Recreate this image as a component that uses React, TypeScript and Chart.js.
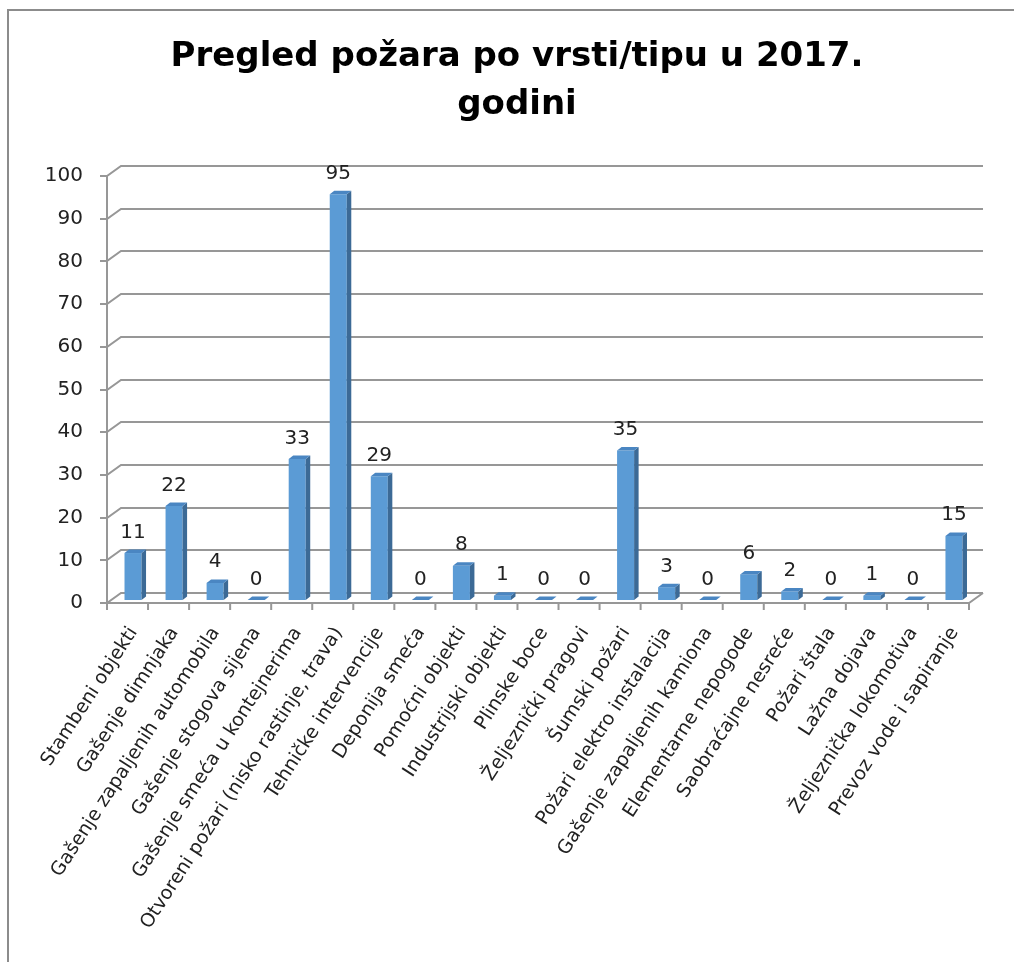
import React, { useEffect, useRef } from 'react';
import { Chart, registerables } from 'chart.js';

Chart.register(...registerables);

const titleLines = ['Pregled požara po vrsti/tipu u 2017.', 'godini'];

const categories = [
  'Stambeni objekti',
  'Gašenje dimnjaka',
  'Gašenje zapaljenih automobila',
  'Gašenje stogova sijena',
  'Gašenje smeća u kontejnerima',
  'Otvoreni požari (nisko rastinje, trava)',
  'Tehničke intervencije',
  'Deponija smeća',
  'Pomoćni objekti',
  'Industrijski objekti',
  'Plinske boce',
  'Željeznički pragovi',
  'Šumski požari',
  'Požari elektro instalacija',
  'Gašenje zapaljenih kamiona',
  'Elementarne nepogode',
  'Saobraćajne nesreće',
  'Požari štala',
  'Lažna dojava',
  'Željeznička lokomotiva',
  'Prevoz vode i sapiranje',
];

const values = [11, 22, 4, 0, 33, 95, 29, 0, 8, 1, 0, 0, 35, 3, 0, 6, 2, 0, 1, 0, 15];

const yMin = 0;
const yMax = 100;
const yStep = 10;

// 3D look parameters
const DX = 14, DY = 10; // back wall offset
const SX = 5.5, SY = -3; // bar depth shift
const FX = 4.5, FY = 3.5; // bar side/top face depth
const GRID = '#979797';
const FRONT = '#5B9BD5';
const SIDE = '#3C6A96';
const TOP = '#4A86C2';
const TEXT = '#222222';

const excel3d = {
  id: 'excel3d',
  afterLayout(chart: any) {
    const tb = chart.titleBlock;
    if (tb) {
      tb.left = 65;
    }
  },
  beforeDatasetsDraw(chart: any) {
    const { ctx, chartArea: ca, scales } = chart;
    const x = scales.x, y = scales.y;
    ctx.save();
    ctx.strokeStyle = GRID;
    ctx.lineWidth = 2;
    y.ticks.forEach((t: any) => {
      const py = Math.round(y.getPixelForValue(t.value));
      ctx.beginPath();
      ctx.moveTo(ca.left - 7, py);
      ctx.lineTo(ca.left, py);
      ctx.lineTo(ca.left + DX, py - DY);
      ctx.lineTo(ca.right + DX, py - DY);
      ctx.stroke();
    });
    ctx.beginPath();
    ctx.moveTo(ca.left, y.getPixelForValue(yMax));
    ctx.lineTo(ca.left, ca.bottom + 7);
    ctx.moveTo(ca.left, ca.bottom);
    ctx.lineTo(ca.right, ca.bottom);
    ctx.lineTo(ca.right + DX, ca.bottom - DY);
    const step = x.getPixelForValue(1) - x.getPixelForValue(0);
    for (let i = 1; i <= categories.length; i++) {
      const px = x.getPixelForValue(0) - step / 2 + i * step;
      ctx.moveTo(px, ca.bottom);
      ctx.lineTo(px, ca.bottom + 7);
    }
    ctx.stroke();
    ctx.restore();
    ctx.save();
    ctx.translate(SX, SY);
  },
  afterDatasetsDraw(chart: any) {
    const { ctx } = chart;
    ctx.restore();
    const meta = chart.getDatasetMeta(0);
    const data = chart.data.datasets[0].data;
    meta.data.forEach((bar: any, i: number) => {
      const p = bar.getProps(['x', 'y', 'base', 'width'], true);
      const l = p.x - p.width / 2 + SX;
      const r = p.x + p.width / 2 + SX;
      const t = p.y + SY;
      const b = p.base + SY;
      ctx.save();
      ctx.fillStyle = SIDE;
      ctx.beginPath();
      ctx.moveTo(r, t);
      ctx.lineTo(r + FX, t - FY);
      ctx.lineTo(r + FX, b - FY);
      ctx.lineTo(r, b);
      ctx.closePath();
      ctx.fill();
      ctx.fillStyle = TOP;
      ctx.beginPath();
      ctx.moveTo(l, t);
      ctx.lineTo(l + FX, t - FY);
      ctx.lineTo(r + FX, t - FY);
      ctx.lineTo(r, t);
      ctx.closePath();
      ctx.fill();
      ctx.fillStyle = TEXT;
      ctx.font = '20px "DejaVu Sans"';
      ctx.textAlign = 'center';
      ctx.textBaseline = 'alphabetic';
      ctx.fillText(String(data[i]), (l + r) / 2, t - 15.5);
      ctx.restore();
    });
  },
};

export default function App() {
  const ref = useRef<HTMLCanvasElement | null>(null);

  useEffect(() => {
    if (!ref.current) return;
    const chart = new Chart(ref.current, {
      type: 'bar',
      data: {
        labels: categories,
        datasets: [
          {
            data: values,
            backgroundColor: FRONT,
            borderWidth: 0,
            barPercentage: 0.415,
            categoryPercentage: 1,
            clip: false as any,
          },
        ],
      },
      options: {
        responsive: false,
        animation: false,
        layout: { padding: { left: 0, right: 45, top: 0, bottom: 0 } },
        plugins: {
          legend: { display: false },
          tooltip: { enabled: false },
          title: {
            display: true,
            text: titleLines,
            color: '#000',
            font: { family: 'DejaVu Sans', size: 34, weight: 'bold', lineHeight: 48 / 34 },
            padding: { top: 33, bottom: 47 },
          },
        },
        scales: {
          x: {
            grid: { display: false, drawTicks: false },
            border: { display: false },
            ticks: {
              autoSkip: false,
              minRotation: 57,
              maxRotation: 57,
              padding: 20,
              labelOffset: 6,
              color: TEXT,
              font: { family: 'DejaVu Sans', size: 19 },
            },
            afterFit: (s: any) => {
              s.height = 962 - 603;
            },
          },
          y: {
            min: yMin,
            max: yMax,
            grid: { display: false, drawTicks: false },
            border: { display: false },
            ticks: {
              stepSize: yStep,
              padding: 24,
              color: TEXT,
              font: { family: 'DejaVu Sans', size: 20 },
            },
            afterFit: (s: any) => {
              s.width = 107;
            },
          },
        },
      },
      plugins: [excel3d],
    });
    return () => chart.destroy();
  }, []);

  return (
    <div style={{ position: 'fixed', left: 0, top: 0, width: 1014, height: 962, background: '#fff' }}>
      <div
        style={{
          position: 'absolute',
          left: 7,
          top: 9,
          right: 0,
          bottom: 0,
          borderTop: '2px solid #8c8c8c',
          borderLeft: '2px solid #8c8c8c',
        }}
      />
      <canvas ref={ref} width={1014} height={962} style={{ position: 'absolute', left: 0, top: 0 }} />
    </div>
  );
}
